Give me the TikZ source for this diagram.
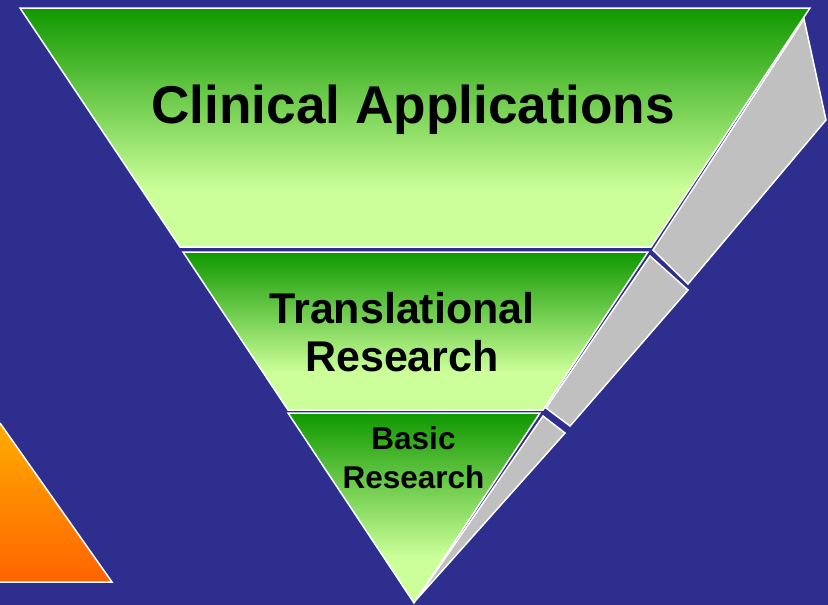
\documentclass[tikz,border=0pt]{standalone}
\usepackage{fontspec}
\setmainfont{Liberation Sans}
\definecolor{bgblue}{RGB}{46,46,143}
\definecolor{darkg}{RGB}{16,152,0}
\definecolor{lightg}{RGB}{204,255,153}
\definecolor{panelgray}{RGB}{192,192,192}
\definecolor{orangetop}{RGB}{255,172,0}
\definecolor{orangebot}{RGB}{255,100,0}
\pgfdeclareverticalshading{greenfade}{100bp}{color(0bp)=(lightg); color(37bp)=(lightg); color(75bp)=(darkg); color(100bp)=(darkg)}
\begin{document}
\begin{tikzpicture}[x=1pt,y=-1pt,
  layer/.style={shading=greenfade, draw=white, line width=1.5pt},
  panel/.style={fill=panelgray, draw=white, line width=1.5pt},
  lbl/.style={font=\bfseries, anchor=base, inner sep=0pt, text=black}]
\fill[bgblue] (0,0) rectangle (828,605);
\useasboundingbox (0,0) rectangle (828,605);

% orange triangle at left
\shade[top color=orangetop, bottom color=orangebot] (0,423) -- (112,582) -- (0,582) -- cycle;
\draw[white, line width=1.5pt] (0,423) -- (112,582) -- (0,582);

% gray side panels
\path[panel] (804,19) -- (826,120) -- (688,284) -- (653,250) -- cycle;
\path[panel] (650,256) -- (688,290) -- (570,426) -- (546,408) -- cycle;
\path[panel] (543,416) -- (565,433) -- (417,599) -- cycle;

% green layers
\path[layer] (20,8) -- (810,8) -- (651,247) -- (180,247) -- cycle;
\path[layer] (183,252) -- (648,252) -- (543,410) -- (288,410) -- cycle;
\path[layer] (288,413) -- (540,413) -- (414,603) -- cycle;

% labels
\node[lbl, font=\bfseries\fontsize{53.2}{60}\selectfont] (clin) at (413,123) {Clinical Applications};
\node[lbl, font=\bfseries\fontsize{43}{48}\selectfont] (trans1) at (402,323) {Translational};
\node[lbl, font=\bfseries\fontsize{43}{48}\selectfont] (trans2) at (402,371) {Research};
\node[lbl, font=\bfseries\fontsize{31.5}{36}\selectfont] (basic1) at (413.5,449) {Basic};
\node[lbl, font=\bfseries\fontsize{31.5}{36}\selectfont] (basic2) at (413.5,488) {Research};
\end{tikzpicture}
\end{document}
